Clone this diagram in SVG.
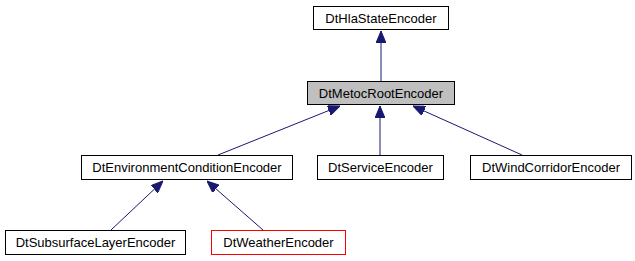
<svg xmlns="http://www.w3.org/2000/svg" width="635" height="261" viewBox="0 0 635 261">
<style>
.box{fill:#ffffff;stroke:#000000;stroke-width:1}
.root{fill:#bfbfbf}
.red{stroke:#ff0000}
.lbl{font-family:"Liberation Sans",Arial,sans-serif;font-size:13px;fill:#000000;text-anchor:middle}
.edge{stroke:#191970;stroke-width:1;fill:none;marker-end:url(#arr)}
</style>
<defs>
<marker id="arr" markerUnits="userSpaceOnUse" markerWidth="12" markerHeight="10" viewBox="0 0 12 10" refX="12" refY="5" orient="auto">
<path d="M0,0 L12,5 L0,10 Z" fill="#191970" stroke="#191970"/>
</marker>
</defs>
<rect width="635" height="261" fill="#ffffff"/>
<g id="edges">
<line class="edge" x1="381" y1="81" x2="381" y2="31"/>
<line class="edge" x1="218" y1="155" x2="340" y2="106"/>
<line class="edge" x1="380" y1="155" x2="380" y2="106"/>
<line class="edge" x1="522" y1="155" x2="413" y2="106"/>
<line class="edge" x1="111" y1="230" x2="163" y2="181"/>
<line class="edge" x1="263" y1="230" x2="207" y2="181"/>
</g>
<g id="DtHlaStateEncoder">
<rect class="box" x="313.5" y="6.5" width="135" height="23"/>
<text class="lbl" x="381" y="22.5">DtHlaStateEncoder</text>
</g>
<g id="DtMetocRootEncoder">
<rect class="box root" x="307.5" y="81.5" width="147" height="23"/>
<text class="lbl" x="381" y="97.5">DtMetocRootEncoder</text>
</g>
<g id="DtEnvironmentConditionEncoder">
<rect class="box" x="81.5" y="155.5" width="211" height="24"/>
<text class="lbl" x="187" y="172">DtEnvironmentConditionEncoder</text>
</g>
<g id="DtServiceEncoder">
<rect class="box" x="317.5" y="155.5" width="126" height="24"/>
<text class="lbl" x="380.5" y="172">DtServiceEncoder</text>
</g>
<g id="DtWindCorridorEncoder">
<rect class="box" x="470.5" y="155.5" width="161" height="24"/>
<text class="lbl" x="551" y="172">DtWindCorridorEncoder</text>
</g>
<g id="DtSubsurfaceLayerEncoder">
<rect class="box" x="5.5" y="230.5" width="180" height="24"/>
<text class="lbl" x="95.5" y="247">DtSubsurfaceLayerEncoder</text>
</g>
<g id="DtWeatherEncoder">
<rect class="box red" x="211.5" y="230.5" width="134" height="24"/>
<text class="lbl" x="278.5" y="247">DtWeatherEncoder</text>
</g>
</svg>
